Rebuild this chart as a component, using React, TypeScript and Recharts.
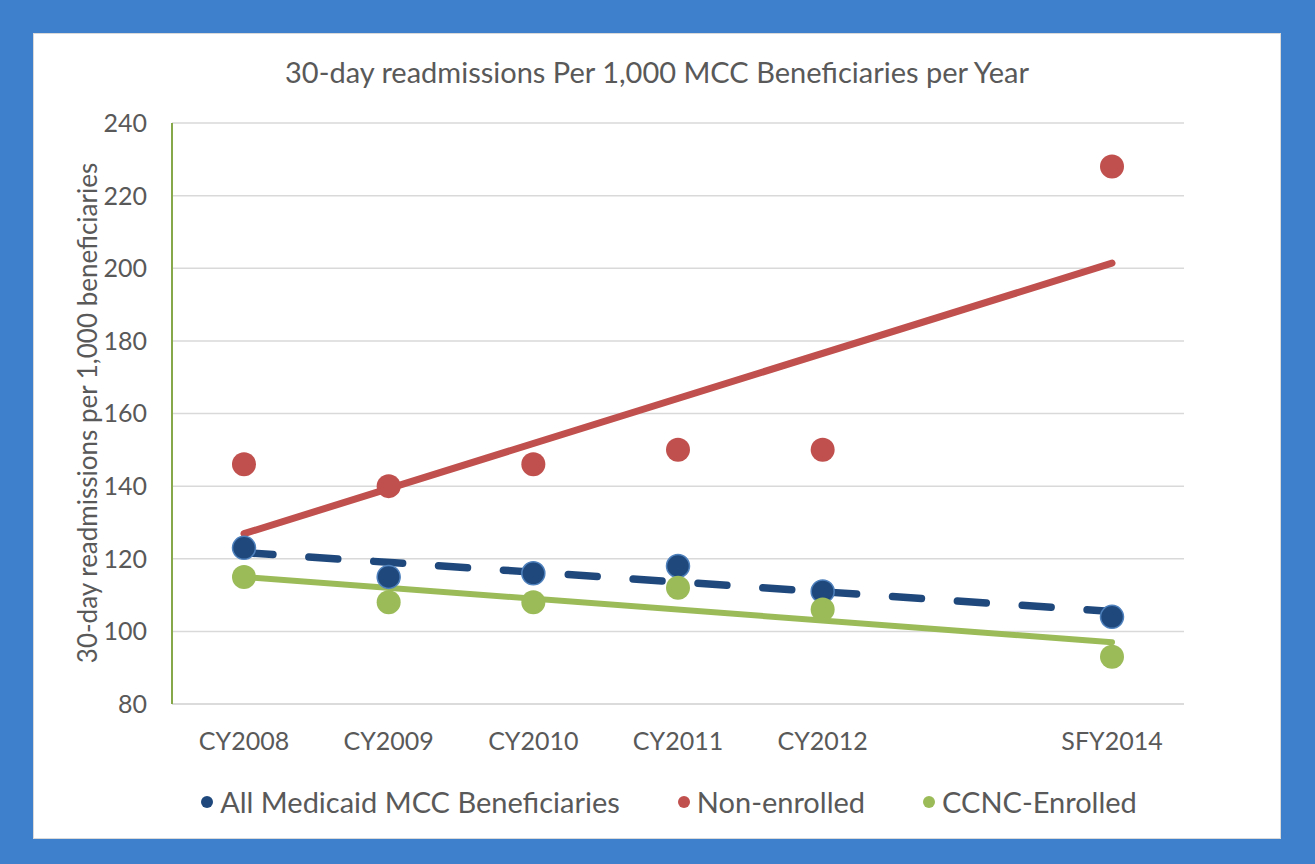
import { LineChart, Line, XAxis, YAxis, CartesianGrid, Label } from "recharts";

// Categories (CY2013 slot left blank, as in the source workbook)
const years = ["CY2008", "CY2009", "CY2010", "CY2011", "CY2012", "", "SFY2014"];

// Observed values, readmissions per 1,000
const allMedicaid = [123, 115, 116, 118, 111, null, 104];
const nonEnrolled = [146, 140, 146, 150, 150, null, 228];
const ccncEnrolled = [115, 108, 108, 112, 106, null, 93];

// Linear trend endpoints as drawn in the chart
const allMedicaidTrend = [121.7, null, null, null, null, null, 105.5];
const nonEnrolledTrend = [126.9, null, null, null, null, null, 201.4];
const ccncTrend = [115, null, null, null, null, null, 97];

const yTicks = [80, 100, 120, 140, 160, 180, 200, 220, 240];

const seriesNames = ["All Medicaid MCC Beneficiaries", "Non-enrolled", "CCNC-Enrolled"];
const BLUE = "#1f497d";
const RED = "#c0504d";
const GREEN = "#9bbb59";
const seriesColors = [BLUE, RED, GREEN];

const TEXT = "#595959";
const FONT = "Lato, 'Open Sans', sans-serif";

const data = years.map((year, i) => ({
  year,
  all: allMedicaid[i],
  non: nonEnrolled[i],
  ccnc: ccncEnrolled[i],
  allTrend: allMedicaidTrend[i],
  nonTrend: nonEnrolledTrend[i],
  ccncTrend: ccncTrend[i],
}));

export default function App() {
  return (
    <div style={{ position: "relative", width: 1315, height: 864, background: "#3f80cc", fontFamily: FONT }}>
      <style>{`body{margin:0}`}</style>
      <div
        style={{
          position: "absolute", left: 33, top: 33, width: 1246, height: 804,
          background: "#fff", border: "1px solid #d9d9d9",
        }}
      >
        {/* Title */}
        <div
          style={{
            position: "absolute", left: 0, top: 20, width: 1246, textAlign: "center",
            fontSize: 29, color: TEXT,
          }}
        >
          30-day readmissions Per 1,000 MCC Beneficiaries per Year
        </div>

        <div style={{ position: "absolute", left: -1, top: -1 }}>
          <LineChart width={1248} height={806} data={data} margin={{ top: 90, right: 97, bottom: 105, left: 59 }}>
            <CartesianGrid stroke="#d9d9d9" strokeWidth={1.5} vertical={false} />
            <XAxis
              dataKey="year"
              padding={{ left: 72, right: 72 }}
              tickSize={0}
              tickMargin={28}
              axisLine={{ stroke: "#d9d9d9", strokeWidth: 1.5 }}
              tick={{ fill: TEXT, fontSize: 25, fontFamily: FONT }}
              interval={0}
            />
            <YAxis
              width={80}
              domain={[80, 240]}
              ticks={yTicks}
              tickSize={0}
              tickMargin={25}
              axisLine={{ stroke: "#86a84a", strokeWidth: 2 }}
              tick={{ fill: TEXT, fontSize: 25, fontFamily: FONT }}
            >
              <Label
                content={() => (
                  <text
                    x={54}
                    y={380}
                    transform="rotate(-90 54 380)"
                    textAnchor="middle"
                    dominantBaseline="central"
                    fill={TEXT}
                    fontSize={26}
                    fontFamily={FONT}
                  >
                    30-day readmissions per 1,000 beneficiaries
                  </text>
                )}
              />
            </YAxis>

            {/* Trend lines */}
            <Line
              dataKey="nonTrend"
              stroke={RED}
              strokeWidth={7}
              strokeLinecap="round"
              connectNulls
              dot={false}
              isAnimationActive={false}
            />
            <Line
              dataKey="ccncTrend"
              stroke={GREEN}
              strokeWidth={6}
              strokeLinecap="round"
              connectNulls
              dot={false}
              isAnimationActive={false}
            />
            <Line
              dataKey="allTrend"
              stroke={BLUE}
              strokeWidth={7.5}
              strokeLinecap="round"
              strokeDasharray="29 36"
              connectNulls
              dot={false}
              isAnimationActive={false}
            />

            {/* Data markers */}
            <Line
              dataKey="non"
              stroke="none"
              dot={{ r: 12, fill: RED, stroke: RED, strokeWidth: 0 }}
              isAnimationActive={false}
            />
            <Line
              dataKey="all"
              stroke="none"
              dot={{ r: 11.5, fill: BLUE, stroke: "#4f81bd", strokeWidth: 1.5 }}
              isAnimationActive={false}
            />
            <Line
              dataKey="ccnc"
              stroke="none"
              dot={{ r: 12, fill: GREEN, stroke: GREEN, strokeWidth: 0 }}
              isAnimationActive={false}
            />
          </LineChart>
        </div>

        {/* Legend */}
        <div
          style={{
            position: "absolute", left: 0, top: 750, width: 1270,
            display: "flex", justifyContent: "center", gap: 58,
            fontSize: 29, color: TEXT,
          }}
        >
          {seriesNames.map((name, i) => (
            <span key={name} style={{ display: "flex", alignItems: "center", gap: 7 }}>
              <span
                style={{
                  display: "inline-block", width: 12, height: 12, borderRadius: "50%",
                  background: seriesColors[i],
                }}
              />
              {name}
            </span>
          ))}
        </div>
      </div>
    </div>
  );
}
